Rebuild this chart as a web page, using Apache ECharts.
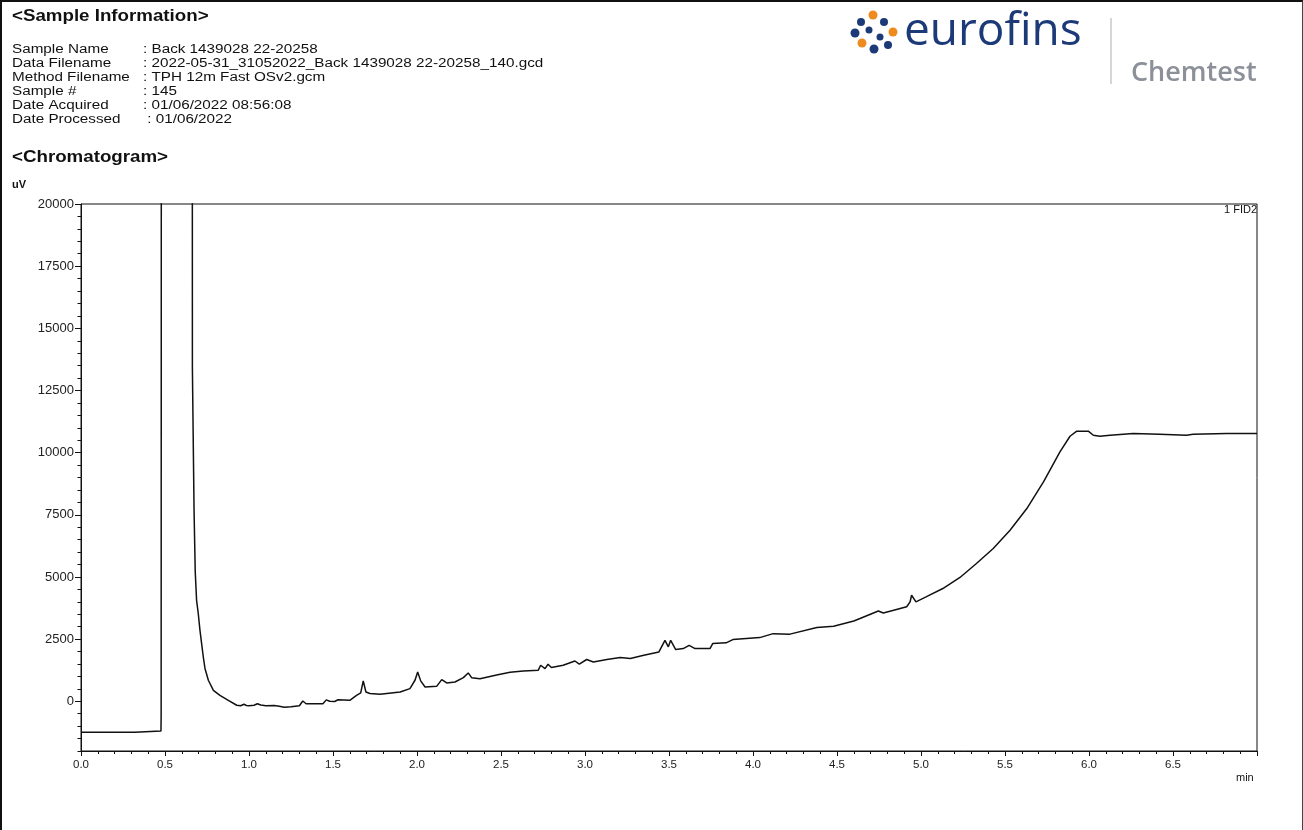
<!DOCTYPE html>
<html>
<head>
<meta charset="utf-8">
<script src="https://cdn.jsdelivr.net/npm/echarts@6/dist/echarts.min.js"></script>
<style>
  html, body { margin: 0; padding: 0; background: #fff; }
  #chart { position: absolute; left: 0; top: 0; width: 1303px; height: 830px; }
  #frame { position: absolute; left: 0; top: 0; width: 1303px; height: 830px; box-sizing: border-box;
    border-top: 2px solid #111; border-left: 2px solid #111; border-right: 1px solid #444; pointer-events: none; }
</style>
</head>
<body>
<div id="chart"></div>
<div id="frame"></div>
<script>
// retention time (min) and detector signal (uV)
const times = [
  0.00, 0.32, 0.325, 0.476, 0.477, 0.484, 0.486, 0.655, 0.663, 0.673,
  0.68, 0.688, 0.698, 0.708, 0.718, 0.728, 0.738, 0.758, 0.788, 0.827,
  0.877, 0.927, 0.95, 0.97, 0.985, 1.0, 1.03, 1.05, 1.07, 1.1,
  1.15, 1.18, 1.21, 1.25, 1.3, 1.32, 1.34, 1.44, 1.46, 1.48,
  1.51, 1.53, 1.60, 1.64, 1.665, 1.68, 1.696, 1.72, 1.78, 1.90,
  1.958, 1.988, 2.004, 2.022, 2.048, 2.117, 2.147, 2.177, 2.226, 2.276,
  2.305, 2.325, 2.375, 2.474, 2.554, 2.633, 2.722, 2.736, 2.762, 2.78,
  2.80, 2.87, 2.94, 2.966, 3.01, 3.05, 3.13, 3.21, 3.27, 3.35,
  3.44, 3.476, 3.496, 3.51, 3.54, 3.585, 3.62, 3.655, 3.744, 3.76,
  3.84, 3.88, 4.04, 4.12, 4.22, 4.38, 4.48, 4.6, 4.637, 4.746,
  4.776, 4.915, 4.935, 4.944, 4.97, 5.03, 5.13, 5.232, 5.33, 5.43,
  5.53, 5.63, 5.73, 5.827, 5.887, 5.927, 5.996, 6.026, 6.065, 6.125,
  6.264, 6.42, 6.58, 6.62, 6.82, 7.0
]
const signal = [
  -1250, -1250, -1200, -1200, -630, -630, 200000, 200000, 13430, 7650,
  5200, 4060, 3530, 2860, 2320, 1780, 1320, 845, 440, 240,
  40, -160, -180, -120, -170, -180, -160, -100, -150, -180,
  -170, -200, -240, -220, -180, 10, -100, -100, 56, 0,
  -10, 60, 40, 240, 340, 820, 375, 310, 280, 375,
  510, 845, 1180, 820, 575, 600, 870, 735, 775, 950,
  1140, 950, 910, 1060, 1165, 1220, 1250, 1450, 1315, 1490,
  1355, 1450, 1620, 1490, 1680, 1580, 1680, 1760, 1720, 1850,
  1985, 2450, 2190, 2450, 2080, 2120, 2250, 2120, 2120, 2320,
  2350, 2480, 2560, 2720, 2700, 2965, 3020, 3230, 3330, 3630,
  3550, 3800, 4000, 4265, 4000, 4200, 4535, 4980, 5540, 6145,
  6880, 7750, 8830, 10030, 10660, 10865, 10865, 10700, 10660, 10700,
  10770, 10740, 10700, 10740, 10770, 10770
]
const yLabelValues = [0, 2500, 5000, 7500, 10000, 12500, 15000, 17500, 20000]

const infoLabels = ['Sample Name', 'Data Filename', 'Method Filename', 'Sample #', 'Date Acquired', 'Date Processed']
const infoValues = [
  ': Back 1439028 22-20258',
  ': 2022-05-31_31052022_Back 1439028 22-20258_140.gcd',
  ': TPH 12m Fast OSv2.gcm',
  ': 145',
  ': 01/06/2022 08:56:08',
  ' : 01/06/2022'
]

const FONT = '"Liberation Sans", Arial, sans-serif'
const BLUE = '#1d3a78'
const ORANGE = '#ef8a1e'

// text placed by its left edge and vertical centre; sx stretches it sideways like the scan
const text = (x, y, str, font, extra, sx) => ({
  type: 'text', x: x, y: y, scaleX: sx || 1,
  style: Object.assign({ text: str, font: font, fill: '#111', verticalAlign: 'middle', align: 'left' }, extra)
})

const graphics = [
  text(12, 16.5, '<Sample Information>', 'bold 16px ' + FONT, {}, 1.17),
  text(12, 157.5, '<Chromatogram>', 'bold 16px ' + FONT, {}, 1.17),
  text(12, 185, 'uV', 'bold 11px ' + FONT),
  text(1236, 778, 'min', '11px ' + FONT),
  text(1257, 210, '1 FID2', '11px ' + FONT, { align: 'right' })
]
infoLabels.forEach((lab, i) => {
  graphics.push(text(12, 49.5 + i * 14, lab, '12.5px ' + FONT, {}, 1.22))
  graphics.push(text(143, 49.5 + i * 14, infoValues[i], '12.5px ' + FONT, {}, 1.22))
})

// logo
const dots = [
  [873, 15, 4.5, ORANGE], [861, 22, 4, BLUE], [884, 22, 4, BLUE],
  [855, 33, 4.5, BLUE], [869, 30, 3.5, BLUE], [893, 32, 4.5, ORANGE],
  [880, 37, 3.5, BLUE], [862, 43, 4.5, ORANGE], [888, 45, 4, BLUE],
  [874, 49, 4.5, BLUE]
]
dots.forEach(d => graphics.push({
  type: 'circle', shape: { cx: d[0], cy: d[1], r: d[2] }, style: { fill: d[3] }
}))
graphics.push(text(904, 32, 'eurofins', '46px "Open Sans", sans-serif', { fill: BLUE }))
graphics.push({
  type: 'line', shape: { x1: 1111, y1: 18, x2: 1111, y2: 84 },
  style: { stroke: '#c8c8c8', lineWidth: 1.5 }
})
graphics.push(text(1131, 73, 'Chemtest', '600 27px "Open Sans", sans-serif', { fill: '#8c9099' }))

const chart = echarts.init(document.getElementById('chart'))
chart.setOption({
  animation: false,
  backgroundColor: '#fff',
  graphic: graphics,
  grid: {
    left: 81, top: 204, right: 46, bottom: 79,
    show: true, borderColor: '#111', borderWidth: 1, backgroundColor: 'transparent'
  },
  xAxis: {
    type: 'value', min: 0, max: 7, interval: 0.5,
    axisLine: { onZero: false, lineStyle: { color: '#111', width: 1 } },
    axisTick: { length: 5, lineStyle: { color: '#111' } },
    minorTick: { show: true, splitNumber: 5, length: 3, lineStyle: { color: '#111' } },
    axisLabel: {
      color: '#222', fontSize: 11.5, fontFamily: FONT, margin: 8, showMaxLabel: false,
      formatter: v => v.toFixed(1)
    },
    splitLine: { show: false }
  },
  yAxis: [
    {
      type: 'value', min: -2000, max: 20000,
      axisLine: { show: true, lineStyle: { color: '#111', width: 1 } },
      axisTick: { length: 6, customValues: yLabelValues, lineStyle: { color: '#111' } },
      axisLabel: {
        customValues: yLabelValues, color: '#222', fontSize: 13, fontFamily: FONT, margin: 7,
        formatter: v => String(v)
      },
      splitLine: { show: false }
    },
    {
      // minor ticks every 500 uV
      type: 'value', min: -2000, max: 20000, interval: 500, position: 'left',
      axisLine: { show: false },
      axisTick: { length: 3.5, lineStyle: { color: '#111' } },
      axisLabel: { show: false },
      splitLine: { show: false }
    }
  ],
  series: [{
    type: 'line',
    data: times.map((t, i) => [t, signal[i]]),
    showSymbol: false,
    clip: true,
    lineStyle: { color: '#111', width: 1.5 }
  }]
})
</script>
</body>
</html>
